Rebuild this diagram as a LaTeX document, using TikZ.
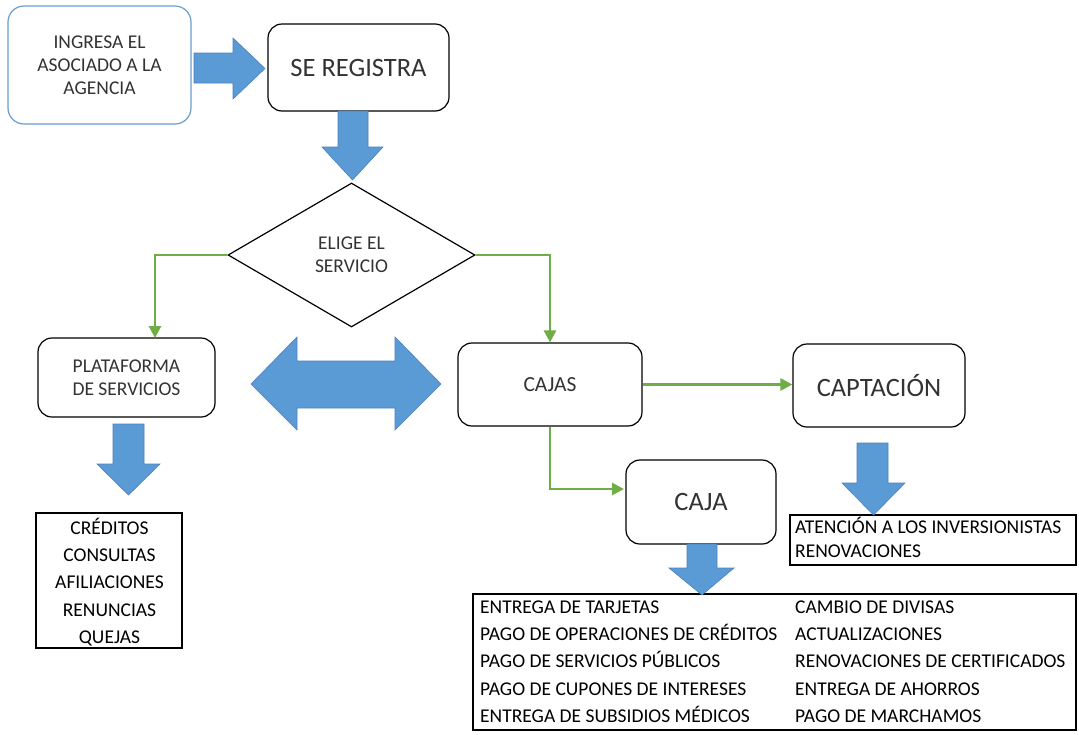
\documentclass[tikz,border=0pt]{standalone}
\usepackage{fontspec}
\setmainfont{Carlito}
\usetikzlibrary{shapes.geometric,arrows.meta}
\definecolor{bluefill}{HTML}{5B9BD5}
\definecolor{blueline}{HTML}{4A80BE}
\definecolor{boxblue}{HTML}{6A9FCF}
\definecolor{grn}{HTML}{70AD47}
\definecolor{txt}{HTML}{333333}
\begin{document}
\begin{tikzpicture}[x=1pt,y=-1pt,
  box/.style={draw=black, line width=1.2pt, rounded corners=14pt, fill=white, text=txt, align=center, inner sep=0pt},
  blk/.style={fill=bluefill, draw=blueline, line width=0.6pt},
  conn/.style={draw=grn, line width=2.8pt, -{Triangle[length=12pt,width=12pt]}},
  small/.style={font=\fontsize{19.5}{23}\selectfont},
  big/.style={font=\fontsize{26.5}{30}\selectfont},
  lst/.style={font=\fontsize{19.5}{27}\selectfont, text=black, inner sep=0pt},
  frame/.style={draw=black, line width=2.8pt, inner sep=0pt}
]
\useasboundingbox (0,0) rectangle (1079,734);

% boxes
\node[box, draw=boxblue, small, minimum width=183pt, minimum height=118pt, rounded corners=16pt] (ing) at (99.5,65) {INGRESA EL\\ASOCIADO A LA\\AGENCIA};
\node[box, big, minimum width=181pt, minimum height=87pt] (reg) at (358.5,67.5) {SE REGISTRA};
\node[diamond, draw=black, line width=1.2pt, minimum width=247pt, minimum height=144pt, inner sep=0pt, text=txt, align=center, small] (dia) at (351.5,255) {ELIGE EL\\SERVICIO};
\node[box, small, minimum width=177pt, minimum height=79pt] (plat) at (126.5,377.5) {PLATAFORMA\\DE SERVICIOS};
\node[box, font=\fontsize{21.5}{25}\selectfont, minimum width=184pt, minimum height=83pt] (cajas) at (550,384.5) {CAJAS};
\node[box, big, minimum width=172pt, minimum height=83pt] (capt) at (879,385.5) {CAPTACIÓN};
\node[box, big, minimum width=150pt, minimum height=84pt] (caja) at (701,502) {CAJA};

% list frames
\node[frame, minimum width=146pt, minimum height=135pt] (cred) at (109,580.5) {};
\foreach \t [count=\i] in {CRÉDITOS,CONSULTAS,AFILIACIONES,RENUNCIAS,QUEJAS}
  \node[lst, anchor=base] (cr\i) at (109.5,{534.3+(\i-1)*27.25}) {\t};

\node[frame, minimum width=286pt, minimum height=50pt] (aten) at (933,540) {};
\node[lst, anchor=base west] (at1) at (795,533.3) {ATENCIÓN A LOS INVERSIONISTAS};
\node[lst, anchor=base west] (at2) at (795,557.3) {RENOVACIONES};

\node[frame, minimum width=603pt, minimum height=136pt] (serv) at (774.5,662) {};
\foreach \t [count=\i] in {ENTREGA DE TARJETAS,PAGO DE OPERACIONES DE CRÉDITOS,PAGO DE SERVICIOS PÚBLICOS,PAGO DE CUPONES DE INTERESES,ENTREGA DE SUBSIDIOS MÉDICOS}
  \node[lst, anchor=base west] (sl\i) at (480,{613.3+(\i-1)*27.25}) {\t};
\foreach \t [count=\i] in {CAMBIO DE DIVISAS,ACTUALIZACIONES,RENOVACIONES DE CERTIFICADOS,ENTREGA DE AHORROS,PAGO DE MARCHAMOS}
  \node[lst, anchor=base west] (sr\i) at (795,{613.3+(\i-1)*27.25}) {\t};

% green connectors
\coordinate (pl) at (155,338);
\coordinate (cj) at (624,489);
\draw[conn] (dia.west) -| (pl);
\draw[conn] (dia.east) -| (cajas.north);
\draw[conn] (cajas.east) -- (capt.west |- cajas.east);
\draw[conn] (cajas.south) |- (cj);

% block arrows
\draw[blk] (194,53) -- (233,53) -- (233,38) -- (265,68.5) -- (233,99) -- (233,83) -- (194,83) -- cycle;
\draw[blk] (338,111) -- (368,111) -- (368,147) -- (383,147) -- (352.5,180) -- (322,147) -- (338,147) -- cycle;
\draw[blk] (251,384) -- (297,337) -- (297,361) -- (395,361) -- (395,337) -- (441,384) -- (395,430) -- (395,408) -- (297,408) -- (297,430) -- cycle;
\draw[blk] (113,424) -- (144,424) -- (144,464) -- (160,464) -- (128.5,495) -- (97,464) -- (113,464) -- cycle;
\draw[blk] (857,443) -- (888,443) -- (888,483) -- (905,483) -- (873.5,515) -- (842,483) -- (857,483) -- cycle;
\draw[blk] (687,544) -- (717,544) -- (717,568) -- (734,568) -- (702,595) -- (669,568) -- (687,568) -- cycle;
\end{tikzpicture}
\end{document}
